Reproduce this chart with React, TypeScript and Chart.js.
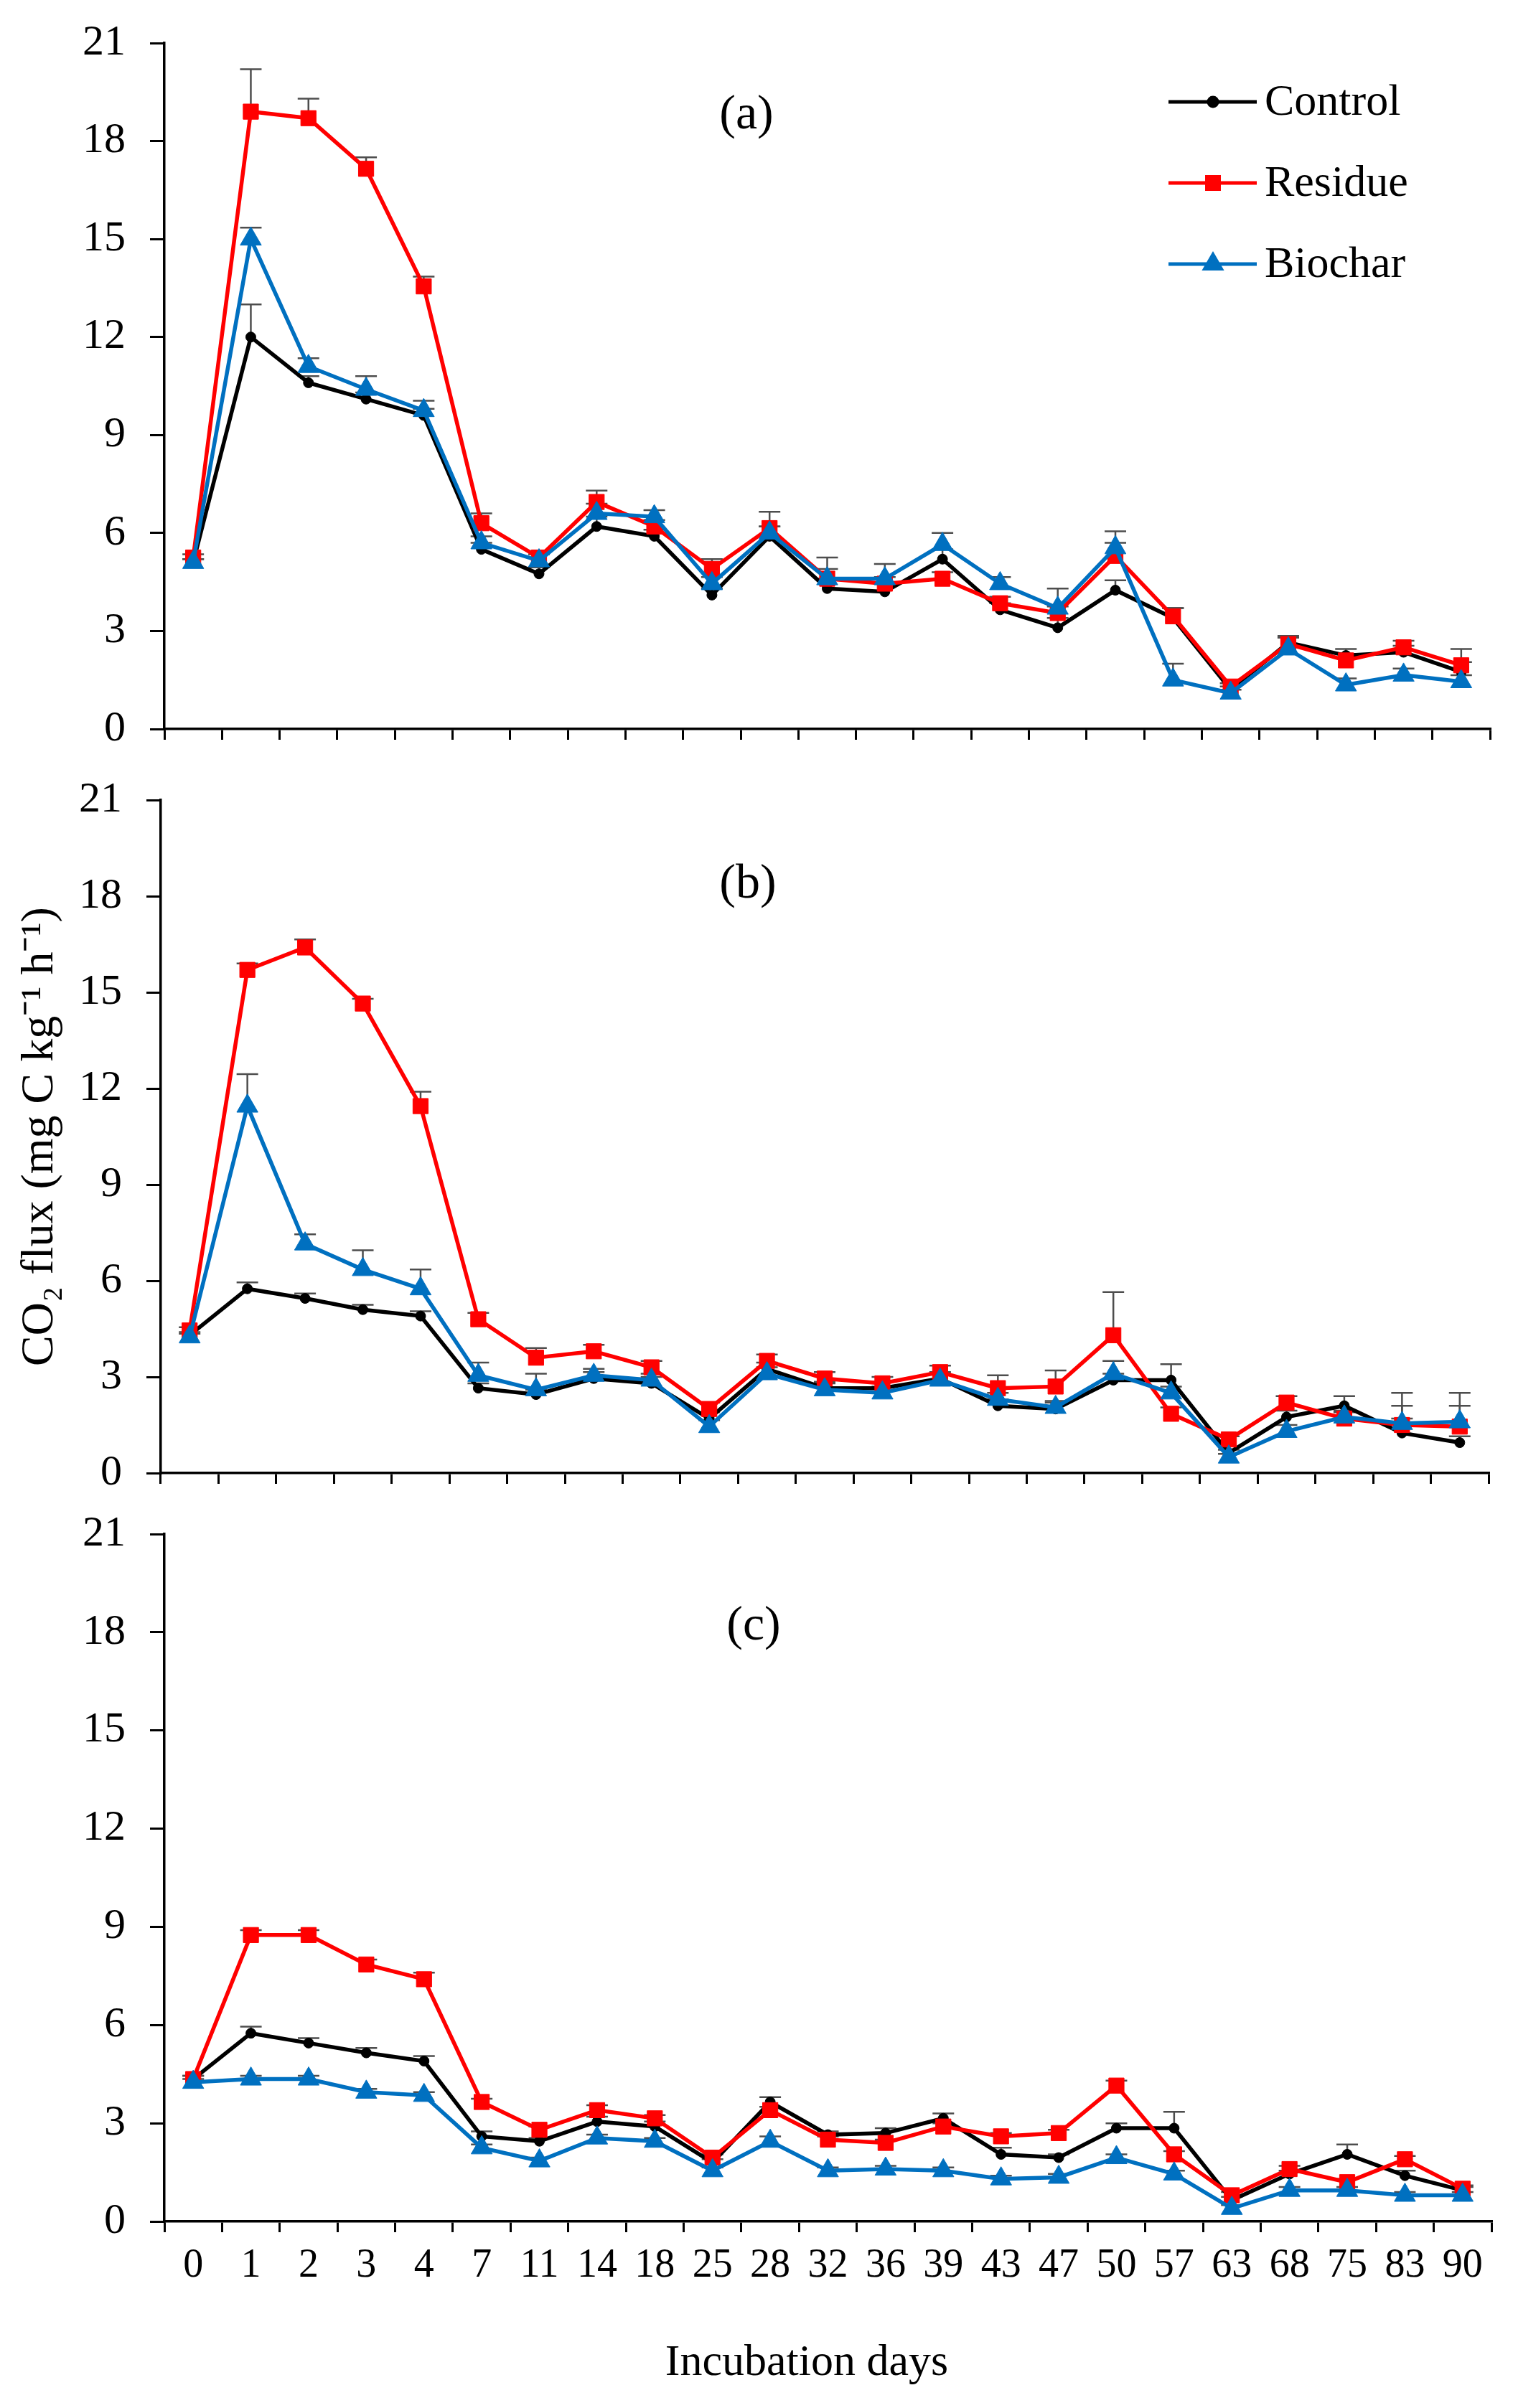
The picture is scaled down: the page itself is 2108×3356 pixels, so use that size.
import { useEffect, useRef } from "react";
import { Chart, registerables } from "chart.js";
import { drawPoint } from "chart.js/helpers";

Chart.register(...registerables);

const FONT = "'Liberation Serif', 'Times New Roman', serif";

// incubation days (x categories)
const days = ["0", "1", "2", "3", "4", "7", "11", "14", "18", "25", "28", "32", "36", "39", "43", "47", "50", "57", "63", "68", "75", "83", "90"];
const seriesNames = ["Control", "Residue", "Biochar"];
const seriesColors = ["#000000", "#FF0000", "#0070C0"];

// panel (a)
const controlA = [5.1, 12.0, 10.6, 10.1, 9.6, 5.5, 4.75, 6.2, 5.9, 4.1, 5.9, 4.3, 4.2, 5.2, 3.65, 3.1, 4.25, 3.4, 1.2, 2.65, 2.25, 2.35, 1.75];
const controlAErr = [0.1, 1.0, 0.2, 0.2, 0.2, 0.2, 0.2, 0.3, 0.2, 0.2, 0.3, 0.3, 0.3, 0.3, 0.2, 0.3, 0.3, 0.3, 0.1, 0.2, 0.2, 0.2, 0.3];
const residueA = [5.25, 18.9, 18.7, 17.15, 13.55, 6.3, 5.25, 6.95, 6.2, 4.9, 6.15, 4.6, 4.45, 4.6, 3.85, 3.55, 5.3, 3.45, 1.3, 2.6, 2.1, 2.5, 1.95];
const residueAErr = [0.1, 1.3, 0.6, 0.35, 0.3, 0.3, 0.2, 0.35, 0.2, 0.3, 0.5, 0.65, 0.2, 0.2, 0.2, 0.2, 0.4, 0.25, 0.1, 0.2, 0.2, 0.2, 0.5];
const biocharA = [5.1, 15.0, 11.1, 10.4, 9.75, 5.7, 5.15, 6.6, 6.5, 4.45, 6.0, 4.6, 4.6, 5.65, 4.45, 3.7, 5.55, 1.5, 1.1, 2.45, 1.35, 1.65, 1.45];
const biocharAErr = [0.1, 0.35, 0.25, 0.4, 0.3, 0.2, 0.2, 0.3, 0.2, 0.2, 0.2, 0.3, 0.45, 0.35, 0.2, 0.6, 0.5, 0.5, 0.1, 0.35, 0.2, 0.2, 0.2];

// panel (b)
const controlB = [4.3, 5.75, 5.45, 5.1, 4.9, 2.65, 2.45, 2.95, 2.8, 1.7, 3.25, 2.65, 2.65, 2.95, 2.1, 2.0, 2.9, 2.9, 0.63, 1.75, 2.1, 1.25, 0.95];
const controlBErr = [0.1, 0.2, 0.15, 0.15, 0.15, 0.15, 0.15, 0.2, 0.2, 0.2, 0.2, 0.2, 0.2, 0.2, 0.2, 0.2, 0.2, 0.5, 0.1, 0.2, 0.3, 0.85, 0.2];
const residueB = [4.45, 15.7, 16.4, 14.65, 11.45, 4.8, 3.6, 3.8, 3.3, 2.0, 3.5, 2.95, 2.8, 3.15, 2.65, 2.7, 4.3, 1.85, 1.05, 2.2, 1.7, 1.5, 1.45];
const residueBErr = [0.1, 0.2, 0.25, 0.15, 0.45, 0.2, 0.3, 0.2, 0.2, 0.2, 0.2, 0.2, 0.2, 0.2, 0.4, 0.5, 1.35, 0.2, 0.1, 0.2, 0.2, 0.2, 0.65];
const biocharB = [4.25, 11.45, 7.15, 6.35, 5.75, 3.05, 2.6, 3.05, 2.9, 1.45, 3.1, 2.6, 2.5, 2.9, 2.3, 2.05, 3.1, 2.5, 0.5, 1.3, 1.75, 1.55, 1.6];
const biocharBErr = [0.1, 1.0, 0.3, 0.6, 0.6, 0.4, 0.5, 0.2, 0.2, 0.2, 0.2, 0.2, 0.2, 0.2, 0.2, 0.2, 0.4, 0.2, 0.1, 0.2, 0.2, 0.95, 0.9];

// panel (c)
const controlC = [4.35, 5.75, 5.45, 5.15, 4.9, 2.6, 2.45, 3.05, 2.9, 1.8, 3.65, 2.65, 2.7, 3.15, 2.05, 1.95, 2.85, 2.85, 0.65, 1.45, 2.05, 1.4, 0.95];
const controlCErr = [0.1, 0.2, 0.15, 0.15, 0.15, 0.15, 0.1, 0.15, 0.15, 0.1, 0.15, 0.1, 0.15, 0.15, 0.2, 0.1, 0.15, 0.5, 0.1, 0.1, 0.3, 0.15, 0.1];
const residueC = [4.35, 8.75, 8.75, 7.85, 7.4, 3.65, 2.8, 3.4, 3.15, 1.95, 3.4, 2.5, 2.4, 2.9, 2.6, 2.7, 4.15, 2.05, 0.8, 1.6, 1.2, 1.9, 1.0];
const residueCErr = [0.1, 0.15, 0.15, 0.15, 0.2, 0.1, 0.1, 0.15, 0.1, 0.1, 0.1, 0.1, 0.1, 0.1, 0.1, 0.1, 0.15, 0.1, 0.1, 0.1, 0.1, 0.1, 0.1];
const biocharC = [4.25, 4.35, 4.35, 3.95, 3.85, 2.25, 1.85, 2.55, 2.45, 1.55, 2.45, 1.55, 1.6, 1.55, 1.3, 1.35, 1.95, 1.45, 0.4, 0.95, 0.95, 0.8, 0.8];
const biocharCErr = [0.1, 0.1, 0.1, 0.1, 0.1, 0.1, 0.1, 0.1, 0.1, 0.1, 0.15, 0.1, 0.1, 0.1, 0.1, 0.1, 0.1, 0.1, 0.1, 0.1, 0.1, 0.1, 0.1];

const yTicks = [0, 3, 6, 9, 12, 15, 18, 21];

const pointStyles = ["circle", "rect", "triangle"];
const pointRadii = [7, 15, 17];

const errorBars = {
    id: "errorBars",
    beforeDatasetsDraw(chart: any) {
        const ctx = chart.ctx;
        const yScale = chart.scales.y;
        ctx.save();
        ctx.strokeStyle = "#4d4d4d";
        ctx.lineWidth = 2.5;
        chart.data.datasets.forEach((ds: any, di: number) => {
            const meta = chart.getDatasetMeta(di);
            const errs: number[] = ds.errors || [];
            meta.data.forEach((pt: any, i: number) => {
                const e = errs[i];
                if (!e) return;
                const top = yScale.getPixelForValue(ds.data[i] + e);
                ctx.beginPath();
                ctx.moveTo(pt.x, pt.y);
                ctx.lineTo(pt.x, top);
                ctx.moveTo(pt.x - 15, top);
                ctx.lineTo(pt.x + 15, top);
                ctx.stroke();
            });
        });
        ctx.restore();
    },
};

// panel letter, x title and the line+marker key
const panelExtras = {
    id: "panelExtras",
    afterDraw(chart: any, _args: any, opts: any) {
        const ctx = chart.ctx;
        const area = chart.chartArea;
        ctx.save();
        ctx.fillStyle = "#000";
        ctx.textBaseline = "middle";
        ctx.font = `68px ${FONT}`;
        ctx.textAlign = "center";
        ctx.fillText(opts.tag, opts.tagX, area.top + opts.tagDy);

        if (opts.xTitle) {
            ctx.font = `62px ${FONT}`;
            ctx.fillText(opts.xTitle, 1124, chart.height - 62);
        }

        if (opts.showKey) {
            const keyY = [142, 255, 368];
            const keyRadii = [6, 12, 13];
            ctx.font = `62px ${FONT}`;
            ctx.textAlign = "left";
            seriesNames.forEach((name, i) => {
                const y = keyY[i];
                ctx.strokeStyle = seriesColors[i];
                ctx.lineWidth = 5;
                ctx.beginPath();
                ctx.moveTo(1628, y);
                ctx.lineTo(1751, y);
                ctx.stroke();
                ctx.fillStyle = seriesColors[i];
                drawPoint(ctx, { pointStyle: pointStyles[i] as any, radius: keyRadii[i], rotation: 0, borderWidth: 1 }, 1690, y);
                ctx.fillStyle = "#000";
                ctx.fillText(name, 1762, y + 2);
            });
        }
        ctx.restore();
    },
};

interface PanelProps {
    tag: string;
    tagX: number;
    tagDy: number;
    top: number;
    height: number;
    padTop: number;
    axisLeft: number;
    axisRight: number;
    xAxisHeight: number;
    control: number[];
    controlErr: number[];
    residue: number[];
    residueErr: number[];
    biochar: number[];
    biocharErr: number[];
    showKey?: boolean;
    showXLabels?: boolean;
    yTitle?: string;
}

const Panel: React.FC<PanelProps> = (p) => {
    const chartRef = useRef<HTMLCanvasElement | null>(null);

    useEffect(() => {
        if (!chartRef.current) return;
        const ctx = chartRef.current.getContext("2d");
        if (!ctx) return;

        const values = [p.control, p.residue, p.biochar];
        const errors = [p.controlErr, p.residueErr, p.biocharErr];

        const myChart = new Chart(ctx, {
            type: "line",
            data: {
                labels: days,
                datasets: seriesNames.map((name, i) => ({
                    label: name,
                    data: values[i],
                    errors: errors[i],
                    borderColor: seriesColors[i],
                    backgroundColor: seriesColors[i],
                    pointBackgroundColor: seriesColors[i],
                    pointBorderColor: seriesColors[i],
                    borderWidth: 5.5,
                    pointStyle: pointStyles[i],
                    pointRadius: pointRadii[i],
                    pointBorderWidth: 1,
                    tension: 0,
                    fill: false,
                    order: 2 - i,
                })) as any,
            },
            options: {
                responsive: false,
                maintainAspectRatio: false,
                animation: false,
                events: [],
                layout: {
                    padding: { top: p.padTop, right: 2108 - p.axisRight, left: 0, bottom: 0 },
                },
                plugins: {
                    legend: { display: false },
                    tooltip: { enabled: false },
                    panelExtras: {
                        tag: p.tag,
                        tagX: p.tagX,
                        tagDy: p.tagDy,
                        showKey: !!p.showKey,
                        xTitle: p.showXLabels ? "Incubation days" : "",
                    },
                } as any,
                scales: {
                    x: {
                        type: "category",
                        offset: true,
                        border: { display: true, color: "#000", width: 3.5 },
                        grid: {
                            display: true,
                            offset: true,
                            drawOnChartArea: false,
                            drawTicks: true,
                            tickLength: 15,
                            color: "#000",
                            lineWidth: 3,
                        },
                        ticks: {
                            display: !!p.showXLabels,
                            color: "#000",
                            padding: 14,
                            maxRotation: 0,
                            autoSkip: false,
                            font: { family: FONT, size: 56 },
                        },
                        afterFit: (scale: any) => {
                            scale.height = p.xAxisHeight;
                            scale.paddingLeft = 0;
                            scale.paddingRight = 0;
                        },
                    },
                    y: {
                        min: 0,
                        max: 21,
                        afterBuildTicks: (scale: any) => {
                            scale.ticks = yTicks.map((v) => ({ value: v }));
                        },
                        border: { display: true, color: "#000", width: 3.5 },
                        grid: {
                            display: true,
                            drawOnChartArea: false,
                            drawTicks: true,
                            tickLength: 20,
                            color: "#000",
                            lineWidth: 3,
                        },
                        ticks: {
                            color: "#000",
                            padding: 34,
                            font: { family: FONT, size: 60 },
                        },
                        title: {
                            display: !!p.yTitle,
                            text: p.yTitle || "",
                            color: "#000",
                            font: { family: FONT, size: 64 },
                            padding: { top: 18, bottom: 0 },
                        },
                        afterFit: (scale: any) => {
                            scale.width = p.axisLeft;
                            scale.paddingTop = 0;
                            scale.paddingBottom = 0;
                        },
                    },
                },
            },
            plugins: [errorBars, panelExtras],
        });

        return () => {
            myChart.destroy();
        };
    }, [p]);

    return (
        <canvas
            ref={chartRef}
            width={2108}
            height={p.height}
            style={{ position: "absolute", left: 0, top: p.top, width: 2108, height: p.height }}
        ></canvas>
    );
};

const panelA: PanelProps = {
    tag: "(a)", tagX: 1040, tagDy: 101, top: 0, height: 1046, padTop: 60, axisLeft: 229, axisRight: 2076, xAxisHeight: 30,
    control: controlA, controlErr: controlAErr, residue: residueA, residueErr: residueAErr, biochar: biocharA, biocharErr: biocharAErr,
    showKey: true,
};
const panelB: PanelProps = {
    tag: "(b)", tagX: 1042, tagDy: 118, top: 1060, height: 1023, padTop: 55, axisLeft: 224, axisRight: 2074, xAxisHeight: 30,
    control: controlB, controlErr: controlBErr, residue: residueB, residueErr: residueBErr, biochar: biocharB, biocharErr: biocharBErr,
    yTitle: "CO\u2082 flux (mg C kg\u207B\u00B9 h\u207B\u00B9)",
};
const panelC: PanelProps = {
    tag: "(c)", tagX: 1050, tagDy: 129, top: 2100, height: 1256, padTop: 38, axisLeft: 229, axisRight: 2078, xAxisHeight: 260,
    control: controlC, controlErr: controlCErr, residue: residueC, residueErr: residueCErr, biochar: biocharC, biocharErr: biocharCErr,
    showXLabels: true,
};

export default function App() {
    return (
        <div style={{ position: "absolute", left: 0, top: 0, width: 2108, height: 3356, background: "#fff" }}>
            <Panel {...panelA} />
            <Panel {...panelB} />
            <Panel {...panelC} />
        </div>
    );
}
